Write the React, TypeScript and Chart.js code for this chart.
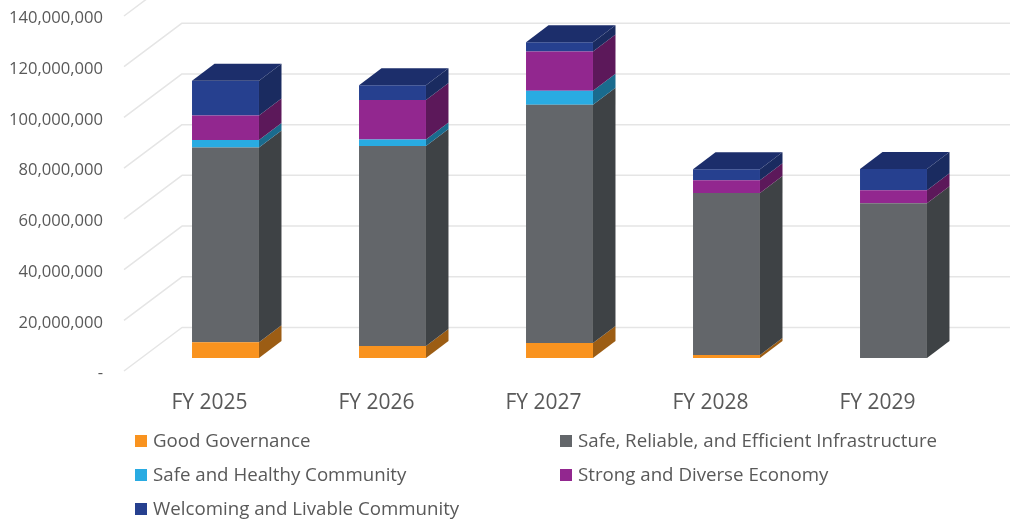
import React, { useEffect, useRef } from "react";
import { Chart, registerables } from "chart.js";

Chart.register(...registerables);

const categories = ["FY 2025", "FY 2026", "FY 2027", "FY 2028", "FY 2029"];
const goodGovernance = [6200000, 4700000, 5900000, 1200000, 0];
const infrastructure = [76800000, 78900000, 94000000, 63900000, 61000000];
const healthyCommunity = [3000000, 2600000, 5500000, 0, 0];
const diverseEconomy = [9600000, 15500000, 15500000, 5000000, 5200000];
const livableCommunity = [13700000, 5900000, 3600000, 4300000, 8300000];

const FONT = "'Open Sans', sans-serif";
const TEXT = "#595959";
const GRID = "#e5e5e5";
// 3D projection of the bars and of the chart walls
const BAR_DX = 22.5;
const BAR_DY = 17;
const WALL_DX = 58;
const WALL_DY = 43.5;
const WALL_LEFT = 124;
const PX_PER_UNIT = 355 / 140000000;
const BAR_BASE_OFFSET = 13 / PX_PER_UNIT;

const series = [
  { label: "Good Governance", data: goodGovernance, color: "#F9931F", side: "#9C5D14", top: "#B06A18" },
  { label: "Safe, Reliable, and Efficient Infrastructure", data: infrastructure, color: "#63666A", side: "#3E4245", top: "#46494C" },
  { label: "Safe and Healthy Community", data: healthyCommunity, color: "#29ABE2", side: "#1A6B8E", top: "#1D7AA0" },
  { label: "Strong and Diverse Economy", data: diverseEconomy, color: "#92278F", side: "#5C185A", top: "#681C66" },
  { label: "Welcoming and Livable Community", data: livableCommunity, color: "#26408F", side: "#1A2B60", top: "#1C2E6B" },
];

const legendSlots = [
  { x: 135, y: 442 },
  { x: 560, y: 442 },
  { x: 135, y: 476 },
  { x: 560, y: 476 },
  { x: 135, y: 510 },
];

const wallsPlugin = {
  id: "walls",
  beforeDatasetsDraw(chart: any) {
    const { ctx } = chart;
    const scale = chart.scales.y;
    ctx.save();
    ctx.strokeStyle = GRID;
    ctx.lineWidth = 1.5;
    ctx.lineJoin = "round";
    scale.ticks.forEach((t: any) => {
      const p = scale.getPixelForValue(t.value);
      ctx.beginPath();
      ctx.moveTo(WALL_LEFT, p);
      ctx.lineTo(WALL_LEFT + WALL_DX, p - WALL_DY);
      ctx.lineTo(chart.width, p - WALL_DY);
      ctx.stroke();
    });
    ctx.restore();
  },
};

const depthPlugin = {
  id: "depth",
  afterDatasetsDraw(chart: any) {
    const { ctx } = chart;
    ctx.save();
    categories.forEach((_, j) => {
      let topIndex = -1;
      series.forEach((s, i) => {
        if (s.data[j] > 0) topIndex = i;
      });
      series.forEach((s, i) => {
        if (!(s.data[j] > 0)) return;
        const el: any = chart.getDatasetMeta(i).data[j];
        const right = el.x + el.width / 2;
        const left = el.x - el.width / 2;
        ctx.fillStyle = s.side;
        ctx.beginPath();
        ctx.moveTo(right, el.y);
        ctx.lineTo(right + BAR_DX, el.y - BAR_DY);
        ctx.lineTo(right + BAR_DX, el.base - BAR_DY);
        ctx.lineTo(right, el.base);
        ctx.closePath();
        ctx.fill();
        if (i === topIndex) {
          ctx.fillStyle = s.top;
          ctx.beginPath();
          ctx.moveTo(left, el.y);
          ctx.lineTo(left + BAR_DX, el.y - BAR_DY);
          ctx.lineTo(right + BAR_DX, el.y - BAR_DY);
          ctx.lineTo(right, el.y);
          ctx.closePath();
          ctx.fill();
        }
      });
    });
    ctx.restore();
  },
};

const legendPlugin = {
  id: "gridLegend",
  afterDraw(chart: any) {
    const { ctx } = chart;
    ctx.save();
    ctx.font = `18.7px ${FONT}`;
    ctx.textBaseline = "middle";
    ctx.textAlign = "left";
    chart.data.datasets.forEach((d: any, i: number) => {
      const slot = legendSlots[i];
      ctx.fillStyle = d.backgroundColor;
      ctx.fillRect(slot.x, slot.y - 7, 12, 12);
      ctx.fillStyle = TEXT;
      ctx.fillText(d.label, slot.x + 18, slot.y);
    });
    ctx.restore();
  },
};

export default function App() {
  const ref = useRef<HTMLCanvasElement>(null);
  useEffect(() => {
    const chart = new Chart(ref.current as HTMLCanvasElement, {
      type: "bar",
      data: {
        labels: categories,
        datasets: series.map((s) => ({
          label: s.label,
          data: s.data,
          backgroundColor: s.color,
          yAxisID: "yBars",
          barPercentage: 0.401,
          categoryPercentage: 1,
        })),
      },
      options: {
        responsive: false,
        animation: false,
        layout: { padding: { top: 16, right: 33, left: 0, bottom: 0 } },
        plugins: { legend: { display: false }, tooltip: { enabled: false } },
        scales: {
          x: {
            stacked: true,
            grid: { display: false },
            border: { display: false },
            afterFit(scale: any) {
              scale.height = 154;
            },
            ticks: {
              color: TEXT,
              font: { family: FONT, size: 21 },
              padding: 11,
              labelOffset: -16,
              autoSkip: false,
              maxRotation: 0,
            },
          },
          y: {
            position: "left",
            min: 0,
            max: 140000000,
            grid: { display: false },
            border: { display: false },
            afterFit(scale: any) {
              scale.width = 142;
              scale.paddingTop = 0;
              scale.paddingBottom = 0;
            },
            ticks: {
              stepSize: 20000000,
              color: TEXT,
              padding: 31,
              labelOffset: 2.5,
              font: { family: FONT, size: 16.6 },
              callback: (v: any) => (Number(v) === 0 ? "-" : Number(v).toLocaleString("en-US")),
            },
          },
          yBars: {
            display: false,
            stacked: true,
            min: -BAR_BASE_OFFSET,
            max: 140000000 - BAR_BASE_OFFSET,
          },
        },
      },
      plugins: [wallsPlugin, depthPlugin, legendPlugin],
    } as any);
    return () => chart.destroy();
  }, []);
  return (
    <div style={{ position: "absolute", left: 0, top: 0, width: 1010, height: 525, background: "#fff" }}>
      <canvas ref={ref} width={1010} height={525} style={{ display: "block", filter: "blur(0.4px)" }} />
    </div>
  );
}
